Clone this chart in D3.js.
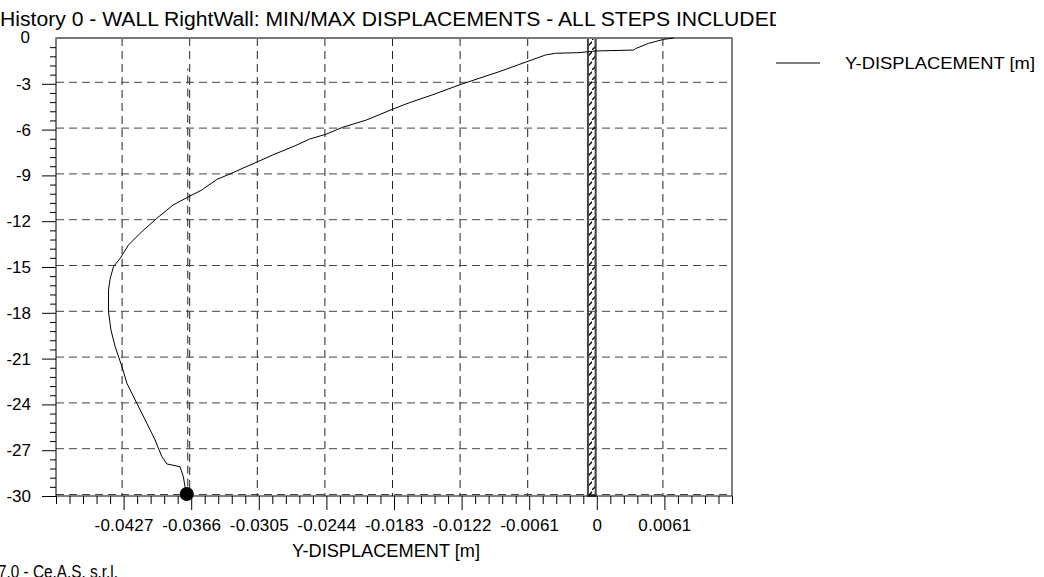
<!DOCTYPE html>
<html>
<head>
<meta charset="utf-8">
<script src="https://cdn.jsdelivr.net/npm/d3@7"></script>
<style>
body{margin:0;background:#fff;}
svg{display:block;font-family:"Liberation Sans",Arial,sans-serif;}
</style>
</head>
<body>
<svg id="chart"></svg>
<script>
// displacement profile along the wall (depth in m, displacement in m)
let depth = [-30,-29.39,-28.73,-28.08,-27.90,-27.42,-26.33,-25.24,-23.93,-22.62,-21.53,-20.22,-19.13,-17.93,-16.51,-15.74,-14.98,-14.43,-13.56,-12.79,-11.81,-10.94,-10.35,-9.96,-9.26,-8.91,-8.53,-8.10,-7.66,-7.07,-6.62,-6.29,-5.85,-5.37,-4.67,-4.24,-3.73,-3.08,-2.64,-2.21,-1.55,-1.11,-1.00,-0.96,-0.85,-0.79,-0.69,-0.35,-0.09,0];
let displacement = [-0.0370,-0.03716,-0.03731,-0.03761,-0.03880,-0.03925,-0.03986,-0.04060,-0.04150,-0.04240,-0.04285,-0.04346,-0.04384,-0.04406,-0.04406,-0.04391,-0.04361,-0.04301,-0.04226,-0.04121,-0.03970,-0.03824,-0.03671,-0.03565,-0.03428,-0.03311,-0.03194,-0.03059,-0.02924,-0.02726,-0.02591,-0.02438,-0.02294,-0.02078,-0.01844,-0.01691,-0.01485,-0.01242,-0.01062,-0.00882,-0.00630,-0.00462,-0.00372,-0.00162,-0.00009,0.00333,0.00351,0.00468,0.00603,0.00693];
let xTicks = [-0.0427,-0.0366,-0.0305,-0.0244,-0.0183,-0.0122,-0.0061,0,0.0061];
let xTickLabels = ["-0.0427","-0.0366","-0.0305","-0.0244","-0.0183","-0.0122","-0.0061","0","0.0061"];
let yTicks = [0,-3,-6,-9,-12,-15,-18,-21,-24,-27,-30];
let xDomain = [-0.0488,0.0122];
let yDomain = [-30,0];
let wallX = [-0.0008,-0.0001];
let maxPoint = {x:-0.0370, y:-30};

let title = "History 0 - WALL RightWall: MIN/MAX DISPLACEMENTS - ALL STEPS INCLUDED";
let xLabel = "Y-DISPLACEMENT [m]";
let seriesName = "Y-DISPLACEMENT [m]";
let footer = "7.0 - Ce.A.S. s.r.l.";

width = 1044;
height = 577;
margin = ({top: 38, right: 312, bottom: 81, left: 56});

let svg = d3.select('#chart').attr('width',width).attr('height',height);

x = d3.scaleLinear().domain(xDomain).range([margin.left, width - margin.right]);
y = d3.scaleLinear().domain(yDomain).range([height - margin.bottom, margin.top]);

let defs = svg.append('defs');
let pat = defs.append('pattern')
    .attr('id','hatch')
    .attr('patternUnits','userSpaceOnUse')
    .attr('width',8).attr('height',10);
pat.append('path').attr('d','M-1,11 L9,1').attr('stroke','#000').attr('stroke-width',1.3);
defs.append('clipPath').attr('id','titleClip')
    .append('rect').attr('x',0).attr('y',0).attr('width',776).attr('height',32);

// title
svg.append('text')
    .attr('clip-path','url(#titleClip)')
    .attr('x',0).attr('y',26)
    .attr('font-size',20)
    .attr('textLength',784).attr('lengthAdjust','spacingAndGlyphs')
    .text(title);

// grid
let grid = svg.append('g').attr('stroke-dasharray','8,5').attr('stroke-width',1).attr('fill','none');
grid.selectAll('.vg').data(xTicks).join('line')
    .attr('x1',d=>x(d)-1.5).attr('x2',d=>x(d)-1.5)
    .attr('y1',y(0)).attr('y2',y(-30))
    .attr('stroke','#222');
grid.selectAll('.hg').data(yTicks.filter(d=>d!==0)).join('line')
    .attr('x1',x(xDomain[0])).attr('x2',x(xDomain[1]))
    .attr('y1',d=>y(d)-1.5).attr('y2',d=>y(d)-1.5)
    .attr('stroke','#444');

// line through the max value
svg.append('line')
    .attr('x1',x(maxPoint.x)+1).attr('x2',x(maxPoint.x)+1)
    .attr('y1',y(-2)).attr('y2',y(-30))
    .attr('stroke','#222').attr('stroke-dasharray','8,5').attr('stroke-dashoffset',6);

// wall
svg.append('rect')
    .attr('x',x(wallX[0])).attr('y',y(0))
    .attr('width',x(wallX[1])-x(wallX[0]))
    .attr('height',y(-30)-y(0))
    .attr('fill','url(#hatch)')
    .attr('stroke','#444').attr('stroke-width',2);

// plot frame
svg.append('rect')
    .attr('x',x(xDomain[0])).attr('y',y(0))
    .attr('width',x(xDomain[1])-x(xDomain[0]))
    .attr('height',y(-30)-y(0))
    .attr('fill','none').attr('stroke','#000').attr('stroke-width',1);
svg.append('line')
    .attr('x1',x(xDomain[0])).attr('x2',x(xDomain[1]))
    .attr('y1',y(0)).attr('y2',y(0))
    .attr('stroke','#777').attr('stroke-width',2);

// curve
let pts = depth.map((d,i)=>({x:displacement[i], y:d}));
svg.append('path')
    .datum(pts)
    .attr('fill','none').attr('stroke','#000').attr('stroke-width',1)
    .attr('d',d3.line().x(d=>x(d.x)).y(d=>y(d.y)));

svg.append('circle')
    .attr('cx',x(maxPoint.x)).attr('cy',y(maxPoint.y)-2)
    .attr('r',7).attr('fill','#000');

// x axis
let xMinor = d3.range(0,51).map(i=>xDomain[0]+i*0.00122).filter(v=>!xTicks.some(t=>Math.abs(t-v)<1e-6));
svg.append('g')
    .attr('transform',`translate(0,${y(-30)})`)
    .call(d3.axisBottom(x).tickValues(xMinor).tickSize(8).tickFormat(''))
    .call(g=>g.select('.domain').remove());
svg.append('g')
    .attr('transform',`translate(0,${y(-30)})`)
    .call(d3.axisBottom(x).tickValues(xTicks).tickSize(14).tickPadding(9)
        .tickFormat((d,i)=>xTickLabels[i]))
    .call(g=>g.select('.domain').remove())
    .call(g=>g.selectAll('text').attr('font-size',17).attr('font-family','Liberation Sans, Arial, sans-serif').attr('letter-spacing',0.2));

// y axis
let yMinor = d3.range(0,51).map(i=>-i*0.6).filter(v=>Math.abs(v/3-Math.round(v/3))>1e-6);
svg.append('g')
    .attr('transform',`translate(${x(xDomain[0])},0)`)
    .call(d3.axisLeft(y).tickValues(yMinor).tickSize(6).tickFormat(''))
    .call(g=>g.select('.domain').remove());
svg.append('g')
    .attr('transform',`translate(${x(xDomain[0])},0)`)
    .call(d3.axisLeft(y).tickValues(yTicks.filter(d=>d!==0)).tickSize(14).tickPadding(11)
        .tickFormat(d=>String(d)))
    .call(g=>g.select('.domain').remove())
    .call(g=>g.selectAll('text').attr('font-size',17).attr('font-family','Liberation Sans, Arial, sans-serif'));
svg.append('text')
    .attr('x',30).attr('y',43)
    .attr('text-anchor','end').attr('font-size',17)
    .text('0');

// axis title
svg.append('text')
    .attr('x',292).attr('y',557)
    .attr('font-size',19)
    .attr('textLength',188).attr('lengthAdjust','spacingAndGlyphs')
    .text(xLabel);

// legend
svg.append('line')
    .attr('x1',776).attr('x2',820).attr('y1',63).attr('y2',63)
    .attr('stroke','#000');
svg.append('text')
    .attr('x',845).attr('y',69)
    .attr('font-size',17)
    .attr('textLength',190).attr('lengthAdjust','spacingAndGlyphs')
    .text(seriesName);

// footer
svg.append('text')
    .attr('x',-2).attr('y',578)
    .attr('font-size',18)
    .attr('textLength',120).attr('lengthAdjust','spacingAndGlyphs')
    .text(footer);
</script>
</body>
</html>
